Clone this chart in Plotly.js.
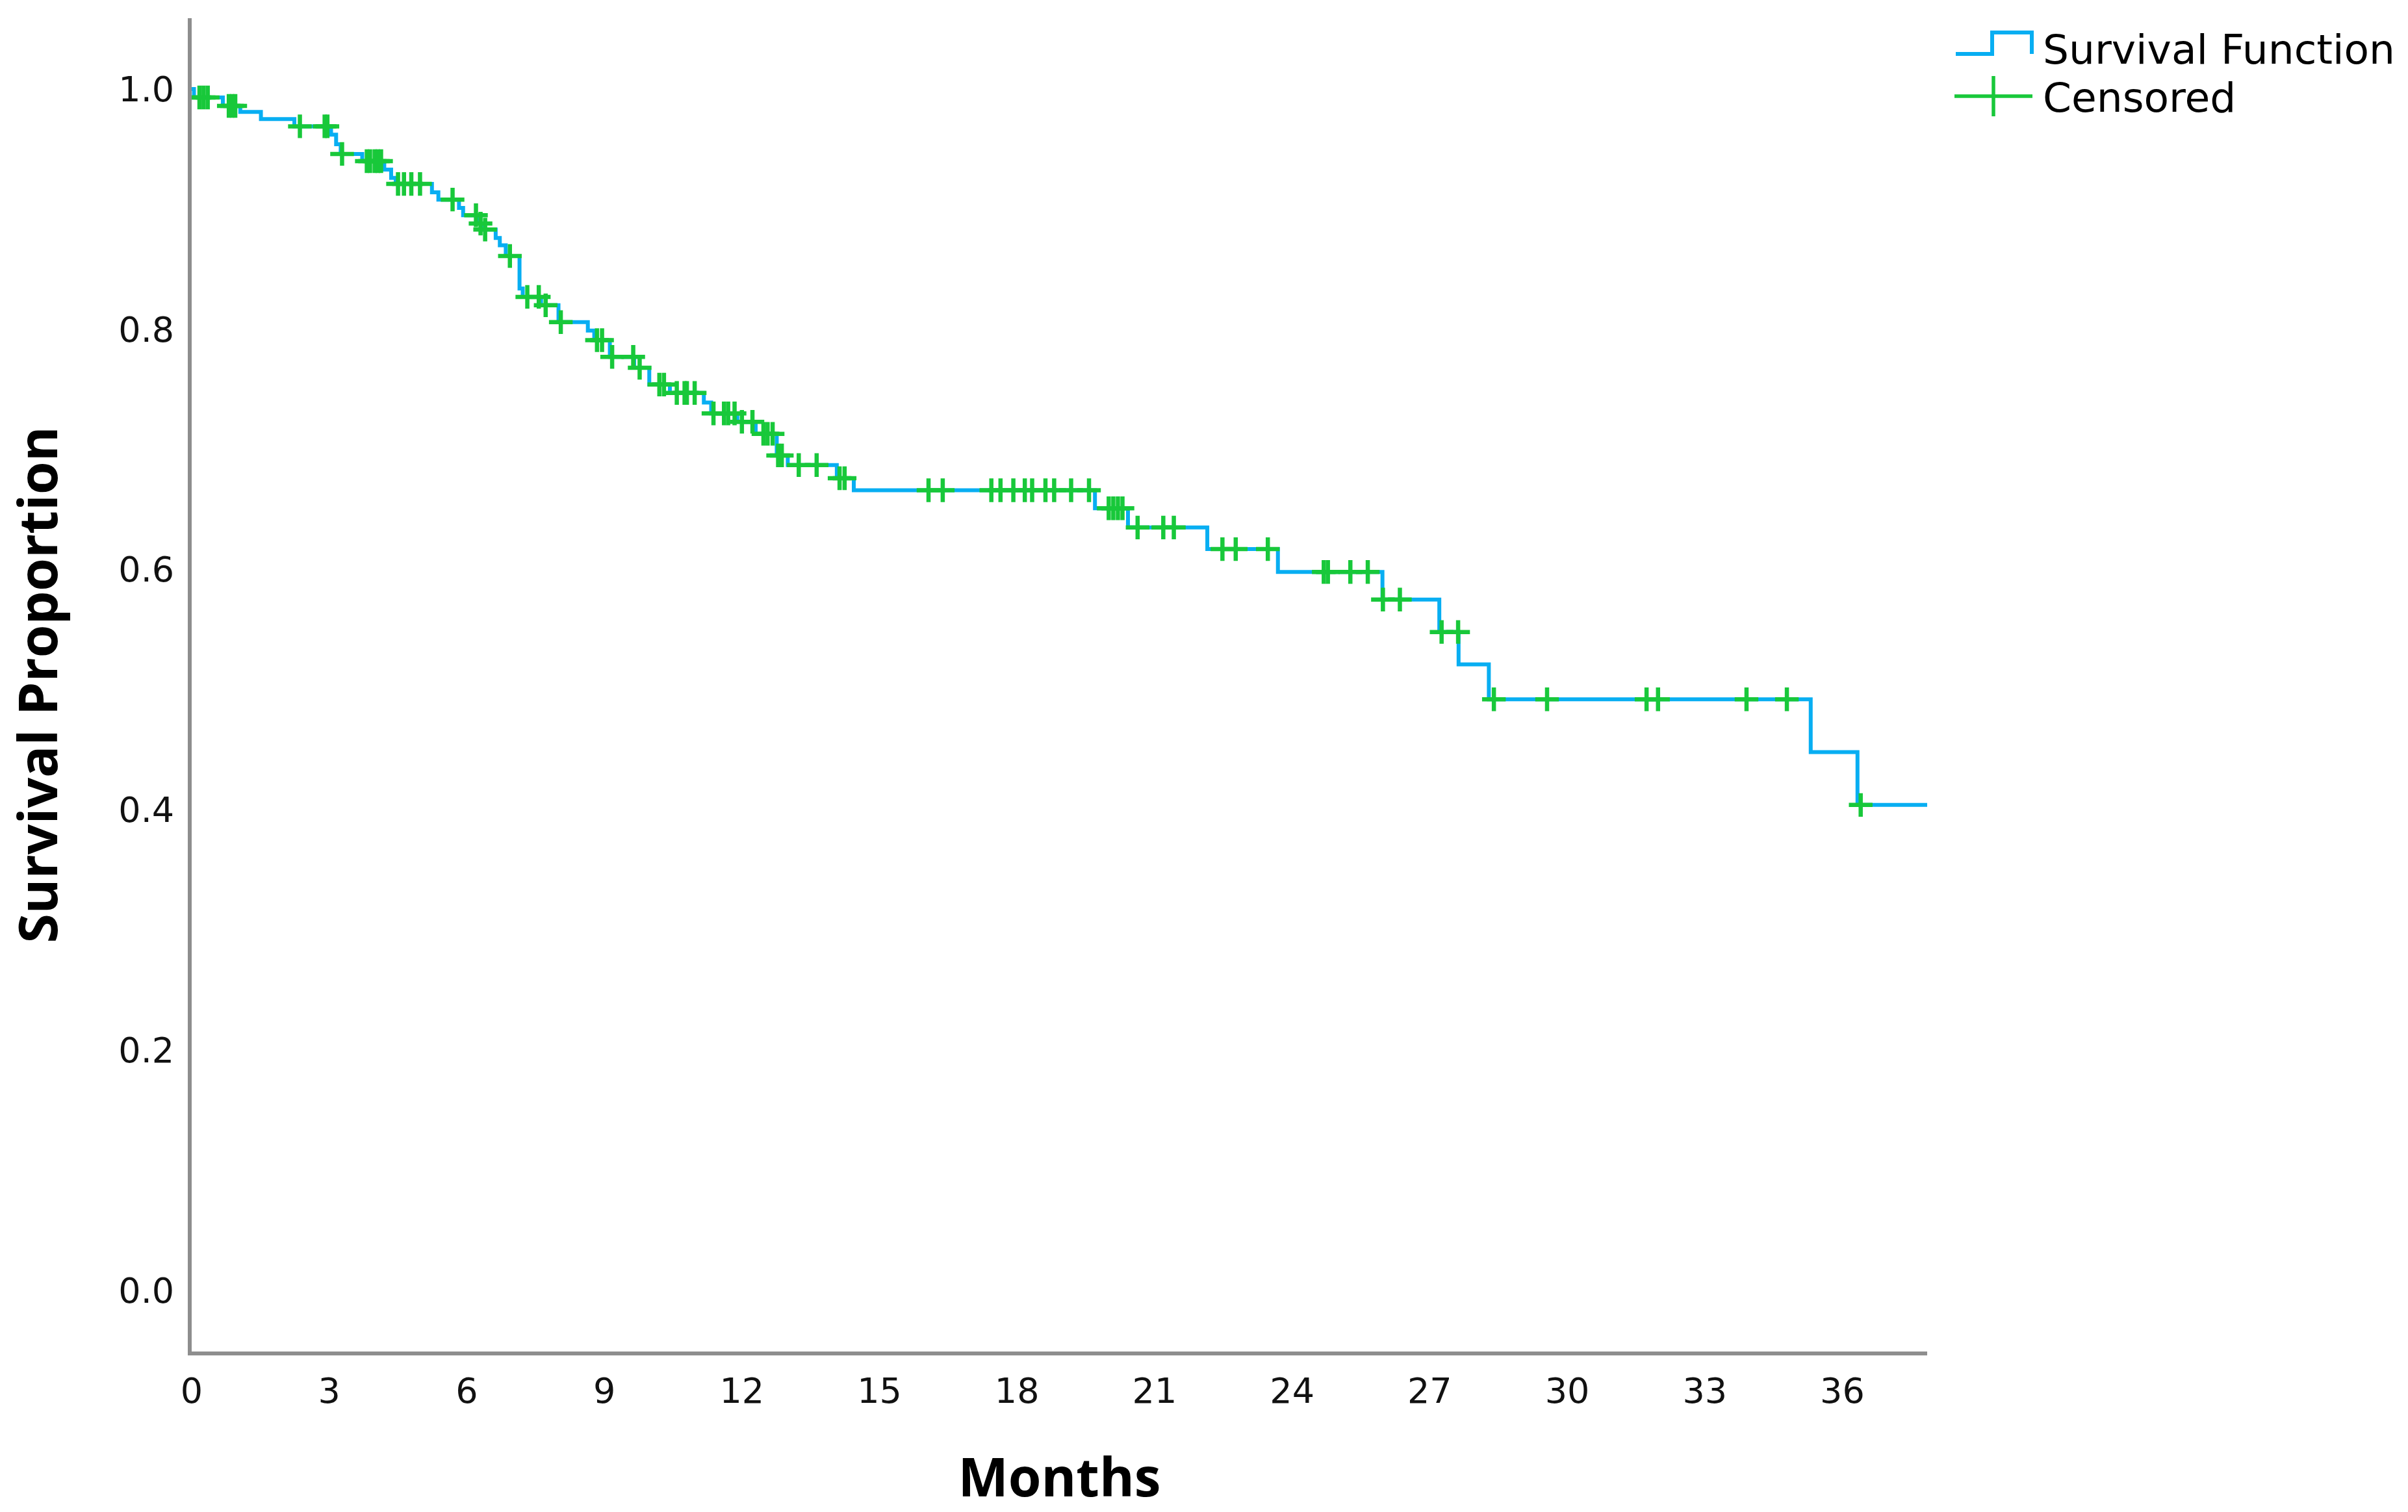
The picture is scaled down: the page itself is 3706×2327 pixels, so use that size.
<!DOCTYPE html>
<html>
<head>
<meta charset="utf-8">
<script src="https://cdn.plot.ly/plotly-3.0.1.min.js"></script>
<style>
  html, body { margin: 0; padding: 0; background: #ffffff; }
  #chart { width: 3706px; height: 2327px; }
</style>
</head>
<body>
<div id="chart"></div>
<script>
// ---- Data ----
const stepTimes = [0, 0.05, 0.68, 1.06, 1.51, 2.24, 3.04, 3.15, 3.25, 3.72, 4.20, 4.35, 4.45, 5.24, 5.38, 5.83, 5.92, 6.25, 6.36, 6.63, 6.72, 6.85, 7.15, 7.22, 7.62, 8.00, 8.64, 8.78, 9.12, 9.65, 9.98, 10.43, 11.17, 11.33, 11.90, 12.30, 12.76, 13.00, 14.07, 14.44, 19.70, 20.42, 22.15, 23.69, 25.97, 27.21, 27.63, 28.29, 35.31, 36.33, 37.85];
const stepSurv  = [1.000, 0.993, 0.986, 0.981, 0.975, 0.969, 0.962, 0.954, 0.946, 0.940, 0.933, 0.926, 0.921, 0.914, 0.908, 0.901, 0.895, 0.888, 0.883, 0.876, 0.870, 0.861, 0.834, 0.827, 0.820, 0.806, 0.799, 0.791, 0.777, 0.768, 0.754, 0.747, 0.739, 0.730, 0.723, 0.713, 0.695, 0.687, 0.676, 0.666, 0.651, 0.635, 0.617, 0.598, 0.575, 0.548, 0.521, 0.492, 0.448, 0.404, 0.404];

const censorTimes = [0.17, 0.26, 0.35, 0.81, 0.88, 0.95, 2.36, 2.90, 2.96, 3.28, 3.82, 3.89, 3.99, 4.06, 4.13, 4.50, 4.63, 4.79, 4.98, 5.69, 6.20, 6.30, 6.40, 6.94, 7.32, 7.57, 7.72, 8.05, 8.84, 8.95, 9.17, 9.63, 9.77, 10.20, 10.30, 10.58, 10.75, 10.80, 10.97, 11.38, 11.61, 11.70, 11.84, 12.00, 12.23, 12.47, 12.56, 12.67, 12.79, 12.87, 13.24, 13.63, 14.13, 14.24, 16.07, 16.38, 17.44, 17.64, 17.92, 18.17, 18.33, 18.62, 18.81, 19.18, 19.57, 20.00, 20.10, 20.20, 20.30, 20.63, 21.19, 21.42, 22.48, 22.77, 23.47, 24.69, 24.78, 25.27, 25.65, 25.98, 26.35, 27.26, 27.62, 28.40, 29.56, 31.73, 31.98, 33.91, 34.79, 36.40];
const censorSurv  = [0.993, 0.993, 0.993, 0.986, 0.986, 0.986, 0.969, 0.969, 0.969, 0.946, 0.940, 0.940, 0.940, 0.940, 0.940, 0.921, 0.921, 0.921, 0.921, 0.908, 0.895, 0.888, 0.883, 0.861, 0.827, 0.827, 0.820, 0.806, 0.791, 0.791, 0.777, 0.777, 0.768, 0.754, 0.754, 0.747, 0.747, 0.747, 0.747, 0.730, 0.730, 0.730, 0.730, 0.723, 0.723, 0.713, 0.713, 0.713, 0.695, 0.695, 0.687, 0.687, 0.676, 0.676, 0.666, 0.666, 0.666, 0.666, 0.666, 0.666, 0.666, 0.666, 0.666, 0.666, 0.666, 0.651, 0.651, 0.651, 0.651, 0.635, 0.635, 0.635, 0.617, 0.617, 0.617, 0.598, 0.598, 0.598, 0.598, 0.575, 0.575, 0.548, 0.548, 0.492, 0.492, 0.492, 0.492, 0.492, 0.492, 0.404];

const xTickVals = [0, 3, 6, 9, 12, 15, 18, 21, 24, 27, 30, 33, 36];
const yTickVals = [0.0, 0.2, 0.4, 0.6, 0.8, 1.0];
const legendLabels = ["Survival Function", "Censored"];
const xTitle = "Months";
const yTitle = "Survival Proportion";

// ---- Styling / layout ----
const W = 3706, H = 2327;
const M = { l: 295, r: 740, t: 28, b: 247 };
const plotW = W - M.l - M.r, plotH = H - M.t - M.b;
const px = (x) => (x - M.l) / plotW;         // pixel -> paper x
const py = (y) => (H - M.b - y) / plotH;     // pixel -> paper y

const BLUE = '#08aef2';
const GREEN = '#18c83a';
const AXIS = '#8e8e8e';
const tickFont = { family: 'DejaVu Sans, Liberation Sans, sans-serif', size: 54, color: '#111111' };
const titleFont = { family: 'Open Sans, Noto Sans, sans-serif', size: 82, color: '#000000', weight: 'bold' };
const legendFont = { family: 'DejaVu Sans, Liberation Sans, sans-serif', size: 63, color: '#000000' };

const traces = [
  {
    x: stepTimes, y: stepSurv,
    type: 'scatter', mode: 'lines',
    line: { shape: 'hv', color: BLUE, width: 6 },
    name: legendLabels[0], showlegend: false, hoverinfo: 'x+y'
  },
  {
    x: censorTimes, y: censorSurv,
    type: 'scatter', mode: 'markers',
    marker: { symbol: 'cross-thin', size: 26, color: GREEN, line: { color: GREEN, width: 6.5 } },
    name: legendLabels[1], showlegend: false, hoverinfo: 'x+y'
  }
];

const layout = {
  width: W, height: H,
  margin: M,
  paper_bgcolor: '#ffffff', plot_bgcolor: '#ffffff',
  showlegend: false,
  xaxis: {
    range: [0, 37.85],
    tickvals: xTickVals, ticktext: xTickVals.map(String),
    ticks: '', showgrid: false, zeroline: false,
    showline: true, linecolor: AXIS, linewidth: 6,
    tickfont: tickFont, ticklabelstandoff: 8,
    title: { text: xTitle, font: titleFont, standoff: 104 },
    automargin: false, fixedrange: true
  },
  yaxis: {
    range: [-0.051, 1.059],
    tickvals: yTickVals, ticktext: yTickVals.map(v => v.toFixed(1)),
    ticks: '', showgrid: false, zeroline: false,
    showline: true, linecolor: AXIS, linewidth: 6,
    tickfont: tickFont, ticklabelstandoff: 10,
    title: { text: yTitle, font: titleFont, standoff: 84 },
    automargin: false, fixedrange: true
  },
  shapes: [
    // legend icon: survival step
    { type: 'path', xref: 'paper', yref: 'paper',
      path: 'M' + px(3010) + ',' + py(83) + ' H' + px(3066) + ' V' + py(50) + ' H' + px(3127) + ' V' + py(83),
      line: { color: BLUE, width: 6 } },
    // legend icon: censored
    { type: 'line', xref: 'paper', yref: 'paper', x0: px(3008), x1: px(3128), y0: py(148), y1: py(148),
      line: { color: GREEN, width: 5.5 } },
    { type: 'line', xref: 'paper', yref: 'paper', x0: px(3068), x1: px(3068), y0: py(117), y1: py(179),
      line: { color: GREEN, width: 5.5 } }
  ],
  annotations: [
    { xref: 'paper', yref: 'paper', x: px(3142), y: py(76), text: legendLabels[0],
      showarrow: false, xanchor: 'left', yanchor: 'middle', font: legendFont },
    { xref: 'paper', yref: 'paper', x: px(3142), y: py(150), text: legendLabels[1],
      showarrow: false, xanchor: 'left', yanchor: 'middle', font: legendFont }
  ]
};

Plotly.newPlot('chart', traces, layout, { staticPlot: true, displayModeBar: false });
</script>
</body>
</html>
